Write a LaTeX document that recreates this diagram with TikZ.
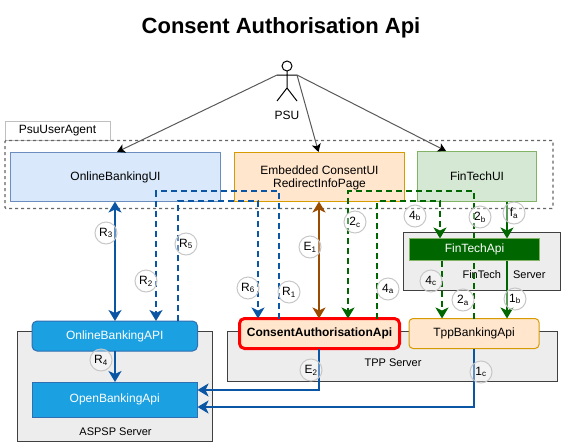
\documentclass[tikz,border=0pt]{standalone}
\usepackage{fontspec}
\setmainfont{Liberation Sans}
\usetikzlibrary{arrows.meta}
\pgfdeclarelayer{fg}
\pgfsetlayers{main,fg}
\definecolor{cblue}{HTML}{0B56A4}
\definecolor{cbrown}{HTML}{994C00}
\definecolor{cgreen}{HTML}{006600}
\definecolor{cbar}{HTML}{1BA1E2}
\definecolor{cuib}{HTML}{DAE8FC}
\definecolor{cuibd}{HTML}{6C8EBF}
\definecolor{cuio}{HTML}{FFE6CC}
\definecolor{cuiod}{HTML}{D79B00}
\definecolor{cuig}{HTML}{D5E8D4}
\definecolor{cuigd}{HTML}{82B366}
\tikzset{
  x=1pt,y=-1pt,
  every node/.style={font=\fontsize{12}{14}\selectfont,inner sep=0pt,outer sep=0pt,align=center},
  srv/.style={draw=black!75,fill=black!7,line width=1pt},
  uibox/.style={line width=1pt},
  apibar/.style={draw=cblue!85,fill=cbar,text=white,line width=1pt},
  lab/.style={circle,draw=black!22,fill=white,fill opacity=.35,text opacity=1,minimum size=22pt,line width=1pt,font=\fontsize{12}{14}\selectfont},
  psuarrow/.style={draw=black!65,line width=1pt,-{Stealth[length=8pt,width=9pt,inset=2pt,fill=black,black]}},
  solidb/.style={cblue,line width=2pt,-{Stealth[length=11pt,width=13pt,inset=3pt]}},
  dashb/.style={solidb,line width=2.4pt,dash pattern=on 6pt off 4pt},
  solidg/.style={cgreen,line width=2pt,-{Stealth[length=11pt,width=13pt,inset=3pt]}},
  dashg/.style={solidg,line width=2.4pt,dash pattern=on 6pt off 4pt},
  both/.style={{Stealth[length=11pt,width=13pt,inset=3pt]}-{Stealth[length=11pt,width=13pt,inset=3pt]}},
}
\begin{document}
\begin{tikzpicture}
\useasboundingbox (0,0) rectangle (561,442);
\node[font=\bfseries\fontsize{22}{24}\selectfont] (title) at (281,28) {Consent Authorisation Api};
% user agent
\node[draw=black!25,line width=1pt,minimum width=105pt,minimum height=19pt] (agent) at (57.5,130.5) {PsuUserAgent};
\node[draw=black!60,line width=1.4pt,dash pattern=on 3pt off 3pt,rounded corners=1pt,minimum width=548pt,minimum height=68pt] (frame) at (279,174.5) {};
% servers
\node[srv,minimum width=195pt,minimum height=110pt] (aspsp) at (115,386) {};
\node[font=\fontsize{11}{13}\selectfont] (aspsptxt) at (115.5,432) {ASPSP Server};
\node[srv,minimum width=330pt,minimum height=50pt] (tpp) at (392.5,356) {};
\node[font=\fontsize{11}{13}\selectfont] (tpptxt) at (393,363) {TPP Server};
\node[srv,minimum width=157pt,minimum height=58pt] (ftsrv) at (482,261.5) {};
\node[font=\fontsize{11}{13}\selectfont] (ftsrvtxt) at (504,275) {FinTech\hspace{12pt}Server};
% UI
\node[uibox,draw=cuibd,fill=cuib,minimum width=210pt,minimum height=49pt] (obui) at (115.5,177) {OnlineBankingUI};
\node[uibox,draw=cuiod,fill=cuio,minimum width=170.5pt,minimum height=49pt] (embui) at (319.25,177) {};
\node (embtxt) at (319.5,178) {Embedded ConsentUI\\[-.5pt]RedirectInfoPage};
\node[uibox,draw=cuigd,fill=cuig,minimum width=119pt,minimum height=50pt] (ftui) at (477,176.5) {FinTechUI};
% API
\node[apibar,rounded corners=5pt,minimum width=165.5pt,minimum height=30pt] (obapi) at (114.75,336) {OnlineBankingAPI};
\node[apibar,minimum width=165.5pt,minimum height=35pt] (openapi) at (114.75,399.5) {OpenBankingApi};
\node[line width=3pt,draw=red,rounded corners=5pt,fill=cuio,font=\bfseries\fontsize{12}{14}\selectfont,minimum width=160pt,minimum height=30pt] (consent) at (319.5,333.5) {ConsentAuthorisationApi};
\node[uibox,draw=cuiod,rounded corners=4pt,fill=cuio,minimum width=130pt,minimum height=30pt] (tppapi) at (474,333.5) {TppBankingApi};
\begin{pgfonlayer}{fg}
\node[draw=cuigd,line width=1pt,fill=cgreen,text=white,minimum width=130pt,minimum height=22pt] (ftapi) at (474.5,249.5) {FinTechApi};
\end{pgfonlayer}
% actor
\coordinate (head) at (287,66);
\coordinate (armL) at (277,75);
\coordinate (armR) at (297,75);
\coordinate (hip) at (287,88);
\draw[line width=1pt,fill=white] (head) circle (5pt);
\draw[line width=1pt] (287,71) -- (hip) (armL) -- (armR) (277,101) -- (hip) -- (297,101);
\node (psu) at (287,115) {PSU};
\draw[psuarrow] (armL) -- (117,152);
\draw[psuarrow] (armR) -- (318.5,152);
\draw[psuarrow] (armR) -- (446,151);
% blue connectors
\draw[solidb,both] (obui.south -| 115,0) -- (obapi.north -| 115,0);
\draw[solidb] (obapi.south -| 115,0) -- (openapi.north -| 115,0);
\draw[dashb] (consent.north -| 279,0) -- (279,191) -- (156,191) -- (obapi.north -| 156,0);
\draw[dashb] (obapi.north -| 178,0) -- (178,201) -- (258,201) -- (consent.north -| 258,0);
\draw[cbrown,line width=2pt,both] (embui.south -| 319,0) -- (consent.north -| 319,0);
\draw[solidb] (consent.south -| 319,0) -- (319,390) -- (openapi.east |- 0,390);
\draw[solidb] (tppapi.south -| 474,0) -- (474,407) -- (openapi.east |- 0,407);
% green connectors
\draw[dashg] (tppapi.north -| 474,0) -- (474,191) -- (348,191) -- (consent.north -| 348,0);
\draw[dashg] (consent.north -| 377,0) -- (377,201) -- (440,201) -- (ftapi.north -| 440,0);
\draw[dashg] (ftapi.south -| 442,0) -- (tppapi.north -| 442,0);
\draw[solidg] (ftui.south -| 507,0) -- (ftapi.north -| 507,0);
\draw[solidg] (ftapi.south -| 507,0) -- (tppapi.north -| 507,0);
% labels
\node[lab] (r3) at (106,233) {R\textsubscript{3}};
\node[lab] (r2) at (146,281) {R\textsubscript{2}};
\node[lab] (r5) at (186,244) {R\textsubscript{5}};
\node[lab] (r6) at (248,288) {R\textsubscript{6}};
\node[lab] (r1) at (289,292) {R\textsubscript{1}};
\node[lab] (r4) at (101,360) {R\textsubscript{4}};
\node[lab] (e1) at (310,247) {E\textsubscript{1}};
\node[lab] (e2) at (311,370) {E\textsubscript{2}};
\node[lab] (c2) at (355,222) {2\textsubscript{c}};
\node[lab] (a4) at (388,289) {4\textsubscript{a}};
\node[lab] (b4) at (415,216) {4\textsubscript{b}};
\node[lab] (c4) at (431,281) {4\textsubscript{c}};
\node[lab] (a2) at (463,300) {2\textsubscript{a}};
\node[lab] (b2) at (480,217) {2\textsubscript{b}};
\node[lab] (fa) at (514,213) {f\textsubscript{a}};
\node[lab] (b1) at (515,299) {1\textsubscript{b}};
\node[lab] (c1) at (481,372) {1\textsubscript{c}};
\end{tikzpicture}
\end{document}
